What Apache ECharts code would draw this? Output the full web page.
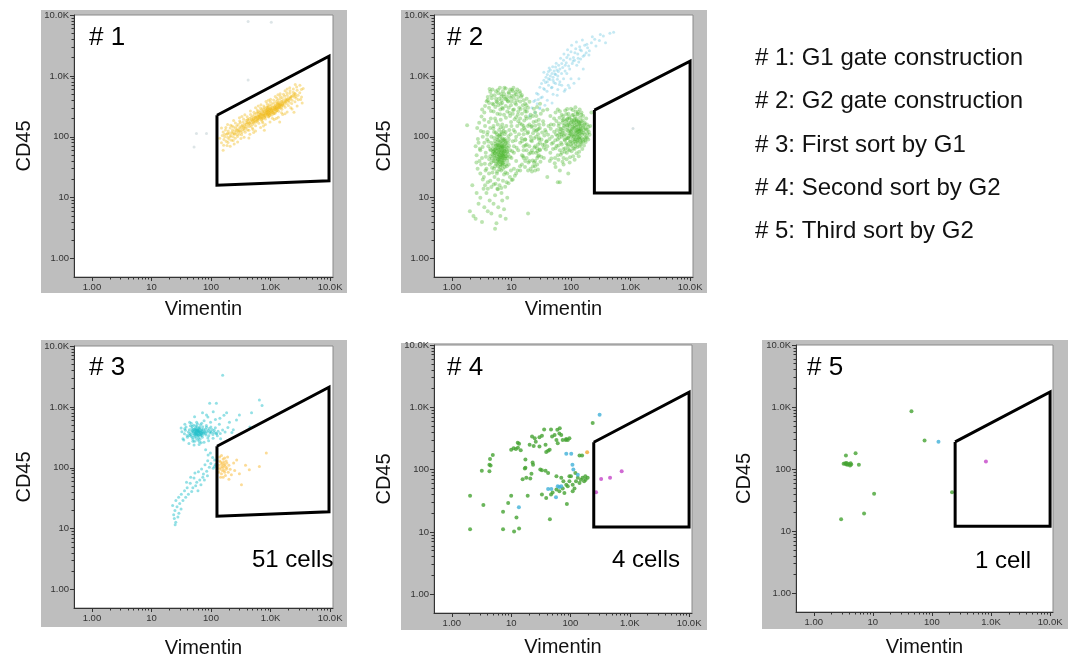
<!DOCTYPE html>
<html><head><meta charset="utf-8">
<script src="https://cdn.jsdelivr.net/npm/echarts@6/dist/echarts.min.js"></script>
<style>html,body{margin:0;padding:0;background:#fff}#c{width:1073px;height:659px}</style>
</head><body><div id="c"></div>
<script>
// ---------- axis ticks ----------
const tickValues = [1, 10, 100, 1000, 10000];
const tickLabels = ['1.00', '10', '100', '1.0K', '10.0K'];
const minorTickValues = [2,3,4,5,6,7,8,9,20,30,40,50,60,70,80,90,200,300,400,500,600,700,800,900,2000,3000,4000,5000,6000,7000,8000,9000];
const axisMin = 0.5, xAxisMax = 11200, yAxisMax = 10000;
const xTitle = 'Vimentin', yTitle = 'CD45';
const panelLabels = ['# 1', '# 2', '# 3', '# 4', '# 5'];
const cellCounts = ['', '', '51 cells', '4 cells', '1 cell'];
const legendLines = ['# 1: G1 gate construction', '# 2: G2 gate construction', '# 3: First sort by G1', '# 4: Second sort by G2', '# 5: Third sort by G2'];

// ---------- gates (Vimentin, CD45) ----------
const gateG1 = [[126,226],[9600,2110],[9600,19],[126,16],[126,226]];
const gateG2 = [[247,275],[10000,1750],[10000,12],[247,12],[247,275]];

// ---------- panel 1 ----------
const p1Yellow = [[140,95],[150,80],[155,105],[160,120],[165,90],[170,100],[175,130],[180,85],[185,110],[190,98],
[195,125],[200,92],[205,115],[210,140],[215,105],[220,88],[225,120],[230,130],[235,100],[240,145],
[245,112],[250,125],[255,95],[260,138],[265,118],[270,150],[275,108],[280,128],[285,160],[290,120],
[295,135],[300,110],[305,145],[310,170],[315,125],[320,140],[330,118],[335,155],[340,132],[345,175],
[350,145],[360,128],[365,162],[370,150],[380,138],[385,185],[390,160],[400,145],[405,172],[410,130],
[420,190],[425,158],[430,175],[440,148],[445,200],[450,165],[460,182],[470,150],[475,210],[480,170],
[490,190],[500,160],[505,220],[510,180],[520,200],[530,168],[540,235],[550,190],[560,210],[570,175],
[580,245],[590,200],[600,222],[610,185],[620,260],[630,210],[640,230],[650,195],[660,250],[670,220],
[680,270],[690,205],[700,240],[710,215],[720,285],[730,230],[740,255],[750,200],[760,275],[770,240],
[780,300],[790,225],[800,260],[810,245],[820,290],[830,215],[840,270],[850,240],[860,310],[870,255],
[880,230],[890,285],[900,262],[910,320],[920,240],[930,280],[940,300],[950,250],[960,335],[970,270],
[980,225],[990,295],[1000,260],[1020,320],[1040,280],[1060,350],[1080,250],[1100,300],[1120,270],[1140,360],
[1160,310],[1180,285],[1200,330],[1220,260],[1240,380],[1260,300],[1280,340],[1300,290],[1330,400],[1360,320],
[1390,350],[1420,300],[1450,420],[1480,340],[1510,380],[1540,310],[1570,440],[1600,360],[1640,400],[1680,330],
[1720,470],[1760,380],[1800,420],[1850,350],[1900,480],[1950,400],[2000,440],[2050,370],[2100,520],[2150,420],
[2200,460],[2300,400],[2400,540],[2500,450],[2600,500],[2700,430],[2800,580],[2900,480],[3100,530],[3300,600],
[620,200],[680,240],[720,210],[760,230],[800,215],[850,265],[880,250],[900,230],[940,270],[980,250],
[1000,240],[1050,270],[1100,255],[1150,290],[1200,280],[1250,310],[1300,320],[1350,300],[1400,330],[1450,350],
[700,190],[750,260],[820,240],[870,280],[920,215],[960,240],[1020,290],[1080,310],[1130,240],[1180,320],
[1230,290],[1280,270],[1320,350],[1380,370],[1430,320],[1500,340],[1550,380],[1600,330],[650,220],[590,180],
[550,210],[520,175],[480,190],[440,165],[400,170],[360,140],[330,150],[300,125],[270,130],[250,110],
[230,115],[210,100],[190,115],[170,110]];
const p1YellowB = [[163,73],[178,142],[193,81],[214,155],[236,87],[257,168],[279,101],[303,182],[327,108],[352,197],
[376,119],[405,214],[433,128],[462,232],[494,139],[527,254],[561,152],[598,276],[637,167],[679,298],
[724,181],[771,322],[822,196],[876,349],[933,212],[994,378],[1059,228],[1128,404],[1202,246],[1281,431],
[1365,263],[1454,465],[1549,284],[1651,498],[1759,305],[1874,531],[1997,327],[2128,569],[2267,352],[2416,612],
[2574,376],[2743,655],[2923,408],[3114,702],[3318,451],[3535,622],[872,238],[914,262],[958,226],[1004,287],
[1052,251],[1103,274],[1156,241],[1212,302],[1270,268],[1331,285],[1395,312],[1462,298],[1532,323],[1606,347],
[793,207],[756,224],[721,198],[687,232],[655,205],[624,219],[595,193],[567,212],[540,186],[515,197],
[1682,362],[1763,371],[1848,389],[1937,412],[2030,398],[2128,436],[2230,451],[2337,472],[2449,489],[2567,521]];
const p1YellowC = [[160,60],[210,70],[280,82],[360,98],[450,110],[560,125],[680,142],[820,160],[980,175],[1150,192],
[1350,210],[1600,232],[1900,255],[2300,285],[2800,320],[3400,360],[245,76],[520,118],[760,150],[1250,200],
[1750,240],[150,140],[190,160],[240,185],[300,205],[370,230],[460,265],[560,300],[690,335],[840,380],
[1000,415],[1200,460],[1450,510],[1750,570],[2100,640],[2600,720],[330,215],[620,320],[920,400],[1330,490],
[1900,610],[186,72],[226,151],[318,94],[412,192],[508,132],[612,248],[742,170],[893,305],[1076,202],
[1294,356],[1532,248],[1817,402],[2186,300],[2652,462],[3205,410],[433,96],[788,128],[1424,176],[2476,254]];
const p1Faint = [[57,113],[84,113],[52,68],[420,7800],[1030,7600],[420,860]];

// ---------- panel 2 ----------
const p2Green = [
[5,40],[6,55],[7,45],[5.5,70],[6.5,35],[7.5,60],[8,48],[4.8,52],[6.2,80],[7.2,30],
[5.2,62],[6.8,42],[7.8,75],[4.6,38],[5.8,90],[6.4,50],[7.4,55],[8.5,40],[5.4,45],[6.6,65],
[7,95],[5.1,30],[6,33],[8.2,62],[4.9,72],[6.9,52],[7.6,44],[5.6,58],[6.3,40],[7.9,85],
[5.3,85],[6.1,47],[7.1,68],[8.8,52],[4.5,60],[6.7,28],[7.3,38],[5.7,48],[6.5,100],[8,35],
[5,50],[6,62],[7,50],[5.5,36],[6.5,45],[7.5,70],[8.4,56],[4.7,44],[6.2,57],[7.7,32],
[5.9,75],[6.8,88],[5.2,40],[7.2,80],[6.4,68],[8.6,45],[4.4,48],[7,40],[6,43],[5.6,65],
[6.6,54],[7.4,47],[5.8,36],[6.9,60],[7.8,53],[5.3,55],[6.3,72],[8.1,70],[4.9,64],[7.1,35],
[6.1,52],[5.4,78],[6.7,46],[7.6,64],[5,58],[6.5,39],[7.3,90],[5.9,42],[8.3,48],[6.8,70],
[3,60],[3.2,45],[3.5,80],[3.8,30],[4,120],[4.2,25],[3.6,150],[4.5,200],[3.3,100],[4,18],
[4.3,35],[5,150],[5.2,22],[5.5,180],[6,20],[6.2,130],[7,160],[7.5,24],[8,120],[8.5,25],
[9,90],[9.5,60],[10,45],[10,150],[11,70],[11,30],[12,100],[12,40],[13,60],[13,180],
[14,80],[14,28],[15,50],[15,130],[16,70],[17,40],[3.1,35],[3.4,120],[3.7,55],[3.9,90],
[4.1,70],[4.4,140],[4.6,100],[4.8,26],[5.1,120],[5.3,200],[5.7,110],[5.9,160],[6.4,110],[6.6,190],
[6.9,120],[7.3,140],[7.7,110],[8.2,150],[8.7,80],[9.2,130],[9.7,110],[10.5,85],[11.5,120],[12.5,150],
[2.6,50],[2.8,80],[2.9,40],[3,25],[3.3,20],[3.6,16],[4,14],[4.6,15],[5.4,17],[6.3,16],
[7.2,19],[8.3,18],[9.4,22],[10.5,20],[2.5,70],[2.7,30],[9,35],[9.8,28],[11,55],[12,25],
[3.5,250],[4.2,300],[5,260],[5.8,240],[6.5,280],[7.5,230],[8.5,260],[9.5,220],[10.5,240],[12,210],
[4.8,350],[6,330],[7,360],[8,320],[9,300],[11,280],[13,260],[14,200],[15,160],[16,110],
[4,400],[5.5,420],[6.8,400],[8.2,410],[10,380],[12,340],[13.5,300],[17,90],[18,60],[16,45],
[3.6,320],[4,450],[4.4,550],[4.8,600],[5.2,480],[5.6,380],[6,520],[6.4,640],[6.8,460],[7.2,560],
[7.6,500],[8,620],[8.5,450],[9,540],[9.5,600],[10,470],[10.5,560],[11,420],[12,500],[13,450],
[14,520],[15,480],[16,400],[17,350],[18,420],[4.2,360],[5,340],[6.2,420],[7,300],[8.8,380],
[9.8,330],[11.5,360],[12.5,600],[14,380],[15.5,330],[5.5,560],[7.8,420],[10.8,640],[6.6,350],[4.6,480],
[15,35],[16,60],[17,90],[18,45],[19,120],[20,70],[21,30],[22,150],[23,55],[24,95],
[25,40],[26,180],[27,65],[28,110],[29,50],[30,80],[16,150],[18,200],[20,40],[22,85],
[24,130],[26,55],[28,75],[30,140],[19,28],[21,100],[23,220],[25,70],[27,45],[29,160],
[17,130],[20,160],[22,60],[24,38],[26,100],[28,48],[30,62],[18,75],[21,55],[23,115],
[25,250],[27,130],[29,90],[15,240],[17,260],[19,300],[21,230],[23,33],[25,28],[27,35],
[60,90],[65,120],[70,100],[75,140],[80,110],[85,130],[90,95],[95,150],[100,120],[105,105],
[110,140],[115,90],[120,125],[125,160],[130,110],[135,135],[140,100],[145,150],[150,120],[62,150],
[68,80],[72,170],[78,90],[82,180],[88,75],[92,160],[98,85],[102,190],[108,80],[112,170],
[118,105],[122,145],[128,85],[132,180],[138,125],[142,90],[148,165],[64,110],[74,125],[84,95],
[94,115],[104,135],[114,120],[124,100],[134,150],[144,115],[66,135],[76,105],[86,155],[96,130],
[106,160],[116,140],[126,130],[136,95],[146,135],[70,75],[80,160],[90,125],[100,100],[110,110],
[120,90],[130,130],[140,170],[150,95],[95,200],[105,180],[115,195],[125,185],[85,190],[75,195],
[30,60],[32,90],[35,45],[38,120],[40,70],[42,150],[45,55],[48,100],[50,80],[52,200],
[55,65],[58,130],[34,180],[36,75],[44,40],[46,160],[54,45],[56,110],[60,50],[65,60],
[70,55],[75,45],[80,65],[85,55],[90,70],[95,60],[100,75],[110,65],[120,70],[130,80],
[140,70],[150,80],[160,90],[170,110],[180,100],[190,130],[200,120],[160,150],[170,170],[180,200],
[160,220],[150,250],[130,240],[110,230],[90,240],[70,230],[55,250],[45,220],[40,280],[60,280],
[80,270],[100,290],[120,260],[140,280],[175,140],[185,160],[165,130],[195,90],[210,150],[220,250],
[55,32],[75,35],[95,38],[115,42],[135,48],[65,28],[90,25],[60,18],[40,22],[65,18],
[2,6],[2.3,5],[2.5,4.5],[2.8,8],[3,10],[3.2,4],[3.5,7],[3.8,12],[4,6],[4.3,9],
[4.6,5.5],[5,8],[5.3,11],[5.6,3.8],[6,7],[6.5,5],[7,9],[7.5,6.5],[8,4.5],[8.5,10],
[3.4,14],[2.6,12],[6.8,12],[5.8,14],[2.2,16],[5.3,3.1],[19,5.5],[1.8,155]];
const p2GreenB = [[4.37,63],[5.83,41],[6.91,77],[3.72,47],[8.34,33],[5.12,96],[7.68,58],[4.09,84],[6.27,29],[9.13,71],
[3.28,68],[5.47,118],[7.04,37],[8.91,102],[4.73,31],[6.58,143],[7.92,26],[3.91,108],[5.26,54],[9.47,47],
[4.18,176],[6.02,88],[7.37,124],[8.63,66],[3.57,36],[5.69,25],[6.84,110],[4.96,137],[7.81,92],[10.3,58],
[11.7,88],[13.4,110],[12.2,66],[14.8,95],[10.9,130],[16.3,140],[15.1,85],[9.86,175],[11.3,195],[13.9,165],
[3.14,215],[4.52,265],[5.36,310],[6.43,235],[7.19,290],[8.07,205],[9.32,245],[10.6,275],[12.8,230],[14.3,285],
[3.83,385],[4.67,430],[5.78,370],[6.74,505],[7.46,455],[8.69,390],[9.71,440],[11.2,480],[12.4,395],[13.7,560],
[4.29,610],[5.94,585],[7.58,640],[9.05,515],[10.2,590],[11.9,545],[14.6,455],[16.8,290],[17.5,215],[18.9,150],
[2.73,92],[2.94,64],[3.06,125],[2.58,38],[3.44,22],[3.67,28],[4.41,19],[5.03,16.5],[5.92,13.8],[6.76,14.5],
[7.85,15.2],[8.92,17.3],[10.1,19.6],[11.4,23],[12.7,28],[13.9,33],[2.87,170],[3.22,280],[3.49,190],[2.66,140],
[6.11,38],[6.37,61],[5.61,73],[6.88,34],[7.23,49],[5.74,27],[6.53,83],[7.01,66],[5.18,46],[6.19,104],
[4.88,57],[7.49,41],[8.16,79],[5.33,33],[6.71,57],[4.61,79],[7.64,87],[5.97,65],[6.35,46],[7.12,58],
[4.23,43],[8.47,58],[5.65,52],[6.95,71],[5.41,62],[7.33,52],[6.06,72],[6.48,32],[7.87,44],[5.79,99],
[15.7,48],[17.2,72],[18.6,115],[19.8,53],[21.4,88],[22.7,41],[24.3,67],[25.8,125],[27.4,58],[29.1,96],
[31.6,47],[33.2,74],[35.7,105],[37.9,62],[16.4,185],[18.1,260],[20.6,205],[23.5,175],[26.2,220],[28.8,190],
[31.1,240],[34.6,160],[36.8,130],[39.2,85],[16.9,32],[19.3,38],[22.1,27],[24.8,33],[27.9,29],[30.7,39],
[17.8,330],[20.1,375],[23.8,290],[26.9,310],[30.2,350],[33.9,270],[21.7,145],[25.1,152],[28.4,135],[32.8,118],
[63.4,97],[71.8,118],[79.2,87],[86.7,142],[93.1,104],[101.6,127],[108.3,92],[117.4,153],[124.9,116],[133.2,98],
[141.7,132],[152.6,108],[67.9,134],[76.3,152],[83.8,78],[91.4,171],[98.7,112],[106.2,147],[113.5,83],[121.8,174],
[129.4,121],[137.6,158],[146.3,127],[158.1,142],[61.7,72],[69.2,109],[74.8,63],[88.3,96],[95.9,83],[103.4,71],
[111.9,101],[119.3,77],[127.7,89],[136.1,112],[144.8,84],[162.4,117],[171.3,96],[54.6,88],[58.9,104],[52.1,121],
[47.3,77],[43.6,92],[49.8,63],[57.2,71],[41.2,108],[38.4,84],[35.1,66],[45.7,136],[51.3,158],[56.7,182],
[64.2,205],[73.6,218],[82.9,234],[92.8,211],[104.7,226],[116.3,214],[128.5,232],[142.1,205],[156.4,188],[168.7,161],
[179.2,132],[187.3,113],[196.8,146],[205.4,108],[176.4,82],[165.3,72],[154.8,63],[137.3,57],[124.1,54],[108.7,48],
[96.2,46],[84.4,43],[72.1,39],[61.5,42],[53.4,37],[46.8,44],[67.3,51],[78.6,57],[89.7,62],[102.3,58],
[114.6,63],[127.9,68],[143.4,74],[158.6,83],[172.9,88],[186.4,97],[62.8,165],[72.4,187],[87.1,198],[99.4,172],
[112.8,186],[123.7,197],[134.9,176],[148.2,181],[64.9,262],[86.3,285],[107.5,275],[131.6,255],[148.9,230],[118.7,305]];
const p2Cyan = [[20,220],[22,300],[25,400],[28,500],[30,650],[32,750],[35,850],[38,950],[40,1050],[42,900],
[45,1000],[48,1100],[50,950],[52,1200],[55,1050],[58,1250],[60,1000],[40,800],[45,1250],[50,850],
[55,1400],[62,1500],[65,1300],[70,1600],[75,1800],[80,1500],[85,2000],[90,2200],[100,2500],[110,2000],
[120,2800],[130,2300],[140,3000],[150,2600],[170,3200],[190,2900],[220,3500],[250,4000],[300,3800],[350,4500],
[450,5000],[25,250],[27,350],[33,450],[36,600],[42,700],[48,650],[55,750],[65,800],[75,900],
[85,1100],[95,1300],[105,1600],[115,1800],[125,1500],[135,1700],[145,1900],[160,2100],[180,2400],[200,2200],
[30,300],[40,400],[50,500],[60,600],[70,700],[80,600],[90,700],[100,900],[35,1150],[43,1350],
[23.7,380],[26.4,520],[29.8,290],[31.2,440],[34.7,620],[37.3,780],[39.6,560],[41.8,1180],[44.3,870],[46.9,640],
[49.2,1420],[51.7,780],[53.8,1080],[56.4,1620],[59.1,880],[61.3,1180],[63.7,720],[66.8,1950],[69.4,1100],[72.6,1380],
[76.1,2300],[79.5,1200],[83.2,1650],[87.6,2700],[91.3,1450],[96.8,1900],[102.4,3200],[108.7,1750],[116.2,2400],[123.5,3600],
[131.8,1950],[142.6,2700],[155.3,3900],[168.4,2200],[184.7,3300],[203.5,2600],[228.1,4400],[262.4,3100],[310.7,4800],[380.2,3500],
[520,5200],[58.6,480],[77.2,560],[94.5,640],[112.3,760],[135.7,900],[160.8,1300],[48.1,360],[36.5,330],[28.2,410]];
const p2Faint = [[1100,137]];

// ---------- panel 3 ----------
const p3Cyan = [[57,370],[52.3,342],[61.8,398],[48.6,411],[66.2,355],[54.9,452],[71.4,318],[44.1,367],[59.7,287],[63.5,436],
[50.8,386],[68.9,402],[46.3,329],[56.1,305],[73.8,378],[41.7,389],[58.4,471],[65.1,294],[53.7,358],[61.1,343],
[47.9,446],[70.3,426],[55.6,412],[62.7,382],[49.4,298],[67.6,337],[51.2,501],[58.9,351],[75.9,361],[43.4,421],
[60.2,418],[54.3,327],[64.8,465],[52.7,396],[57.8,433],[69.7,372],[45.8,352],[62.1,312],[56.7,391],[50.1,367],
[78.6,402],[82.4,347],[86.9,391],[91.7,336],[96.3,372],[80.8,432],[88.5,308],[39.6,338],[37.2,412],[35.8,362],
[59.3,526],[66.7,512],[53.1,273],[72.6,471],[48.2,481],[63.9,268],[57.4,401],[61.6,374],[55.2,379],[58.1,359],
[64.1,389],[52.9,417],[60.7,333],[67.3,385],[54.6,366],[59.9,408],[50.5,424],[68.4,357],[56.3,343],[62.4,396],
[101.5,384],[107.8,352],[113.4,412],[121.9,371],[131.6,398],[143.2,366],[156.7,418],[172.4,388],[93.8,441],[84.2,462],
[32.4,392],[34.9,286],[38.1,468],[42.6,251],[46.7,538],[51.9,236],[57.3,562],[63.2,241],[69.8,541],[76.4,262],
[83.7,497],[91.2,279],[99.6,468],[108.4,305],[118.3,455],[127.6,336],[36.2,437],[40.3,318],[45.1,492],[49.7,272],
[55.8,489],[62.9,452],[68.3,259],[74.2,426],[81.6,371],[89.3,413],[97.1,397],[104.6,425],[112.8,385],[124.2,362],
[47.6,396],[53.4,432],[58.7,418],[64.4,351],[70.9,392],[43.1,341],[66.1,423],[71.2,344],[49.1,318],[77.8,389],
[157,3300],[95,1150],[123,1150],[650,1300],[720,1050],[300,740],[480,800],[183,800],[72,800],[53,690],
[84,740],[109,830],[141,650],[237,420],[450,470],[76.5,590],[98.3,560],[118.6,620],[43.8,560],[36.4,520],
[204,560],[268,610],[192,460],[224,380],[138,520],[165,730],[88.7,680],[31.5,450],[33.8,300],[145,300],
[115,135],[106.4,148],[99.2,118],[93.6,102],[88.1,131],[84.7,88],[79.3,112],[74.6,79],[72.8,70],[69.5,96],
[64.7,63],[61.4,86],[57.6,58],[55.3,51],[51.8,68],[49.6,47],[47.4,41],[44.8,56],[41.7,37],[39.8,47],
[37.6,33],[35.9,42],[33.8,29],[31.7,37],[29.8,26],[28.6,33],[26.9,23],[25.7,29],[24.8,20],[23.6,17],
[24.2,14.7],[25.6,12.8],[25,11.6],[27.8,15.6],[22.7,24],[60.4,42],[67.8,53],[77.4,63],[87.2,74],[109.3,98],
[118.5,113],[114.2,105],[97.6,176],[89.4,162],[81.3,198],[53.7,82],[45.6,70],[38.8,58],[31.4,21],[28.9,18]];
const p3Orange = [[135,110],[140,95],[145,125],[150,80],[155,105],[160,140],[165,90],[170,115],[175,75],[180,130],
[185,100],[190,150],[195,85],[200,110],[140,130],[145,70],[150,115],[155,90],[160,100],[165,125],
[170,85],[175,105],[180,95],[185,120],[140,150],[150,160],[160,70],[170,145],[135,85],[130,100],
[145,100],[155,120],[165,110],[210,95],[220,77],[240,120],[270,135],[325,53],[440,93],[650,105],
[850,175],[300,80],[380,110],[200,65],[250,90]];

// ---------- panel 4 ----------
const p4Green = [[2.03,38],[2.03,11],[3.4,27],[3.2,96],[4.3,94],[4.3,120],[4.4,148],[4.9,172],[4.5,116],[7.3,21],
[7.3,11],[8.9,29],[10,38],[11.2,10.2],[12.3,17],[13.6,11.3],[10,209],[11,220],[12,215],[13,225],
[13.6,260],[14.5,205],[19,38],[18,74],[17.4,107],[17.4,145],[22,86],[23.4,120],[22.5,340],[20.5,250],
[24,240],[26,280],[25,320],[31,100],[30,235],[30,330],[33,350],[33,40],[36,440],[38,250],
[39,192],[42,200],[42,88],[45,16],[47,440],[49,340],[54,360],[58,300],[61,265],[65,380],
[66,460],[70,360],[74,300],[85,310],[90,300],[96,320],[87,28],[39,35],[47,40],[50,43],
[58,48],[65,45],[74,50],[79,42],[85,57],[96,65],[96,78],[109,57],[117,50],[124,65],
[133,74],[142,61],[150,69],[160,74],[170,65],[180,69],[195,74],[142,168],[157,168],[178,78],
[58,78],[70,74],[76,65],[90,54],[109,45],[102,78],[121,88],[237,560],[17,104],[21,72],
[15.6,70],[23,130],[33,98],[38,96],[44.6,209],[60,435],[83,300],[12.9,270]];
const p4Blue = [[310,760],[85,180],[103,180],[108,120],[112,100],[133,83],[42,49],[47.5,49],[61,54],[65,52.5],[70,54],[13.5,25],[57,36]];
const p4Orange = [[191,190]];
const p4Magenta = [[329,71],[465,74],[730,94],[270,43.5]];

// ---------- panel 5 ----------
const p5Green = [[3.5,166],[5.1,181],[3.2,122],[3.4,125],[3.5,120],[3.6,126],[3.7,118],[3.9,121],[4.1,115],[4.3,119],
[4.2,124],[5.8,118],[10.5,40],[7.1,19.3],[2.9,15.6],[45,860],[75,290],[219,42.5]];
const p5Blue = [[129,276]];
const p5Magenta = [[820,133]];

// ---------- layout / style ----------
const FONT = 'Liberation Sans, Arial, sans-serif';
const panels = [
  {grid:{left:74, top:15, width:259, height:262}, box:[41,10,306,283], lab:[89,37.5], cnt:null, xGap:22, yGap:40,
   gate:gateG1, sets:[[p1Faint,'rgba(170,190,195,0.5)',3],[p1Yellow.concat(p1YellowB, p1YellowC),'rgba(240,185,20,0.5)',3]]},
  {grid:{left:434, top:15, width:259, height:262}, box:[401,10,306,283], lab:[447,37.5], cnt:null, xGap:22, yGap:40,
   gate:gateG2, sets:[[p2Faint,'rgba(170,190,195,0.6)',3],[p2Cyan,'rgba(110,200,225,0.5)',3],[p2Green.concat(p2GreenB),'rgba(70,180,40,0.45)',4]]},
  {grid:{left:74, top:346, width:259, height:263}, box:[41,340,306,287], lab:[89,368], cnt:[252,560.5], xGap:30, yGap:40,
   gate:gateG1, sets:[[p3Cyan,'rgba(30,190,200,0.6)',3],[p3Orange,'rgba(250,195,80,0.75)',3]]},
  {grid:{left:434, top:345, width:258, height:268}, box:[401,343,306,287], lab:[447,368], cnt:[612,560.5], xGap:24, yGap:40,
   gate:gateG2, sets:[[p4Green,'#45a332',4],[p4Blue,'#40b0d8',4],[p4Orange,'#f0a830',4],[p4Magenta,'#c445c8',4]]},
  {grid:{left:796, top:345, width:257, height:267}, box:[762,340,306,289], lab:[807,368], cnt:[975,561], xGap:25, yGap:42,
   gate:gateG2, sets:[[p5Green,'#45a332',4],[p5Blue,'#40b0d8',4],[p5Magenta,'#c445c8',4]]}
];

function fmt(v) {
  const k = tickValues.findIndex(t => Math.abs(Math.log10(t) - Math.log10(v)) < 1e-6);
  return k >= 0 ? tickLabels[k] : '';
}

const grid = [], xAxis = [], yAxis = [], series = [], elements = [];
panels.forEach((p, i) => {
  grid.push(Object.assign({show:true, backgroundColor:'#fff', borderColor:'#8a8a8a', borderWidth:1, containLabel:false}, p.grid));
  const tickStyle = {color:'#333', width:1};
  const majorBase = {type:'log', logBase:10, gridIndex:i, min:axisMin,
    axisLine:{show:true, onZero:false, lineStyle:{color:'#333', width:1}},
    axisTick:{show:true, customValues:tickValues, length:4, lineStyle:tickStyle},
    axisLabel:{show:true, customValues:tickValues, formatter:fmt, fontSize:9.5, color:'#333', fontFamily:FONT, margin:5},
    splitLine:{show:false}, minorTick:{show:false}, minorSplitLine:{show:false},
    nameLocation:'middle', nameTextStyle:{fontSize:20, color:'#111', fontFamily:FONT}};
  const minorBase = {type:'log', logBase:10, gridIndex:i, min:axisMin,
    axisLine:{show:false}, axisLabel:{show:false}, splitLine:{show:false},
    axisTick:{show:true, customValues:minorTickValues, length:2.5, lineStyle:tickStyle}};
  xAxis.push(Object.assign({}, majorBase, {position:'bottom', max:xAxisMax, name:xTitle, nameGap:p.xGap}));
  xAxis.push(Object.assign({}, minorBase, {position:'bottom', max:xAxisMax}));
  yAxis.push(Object.assign({}, majorBase, {position:'left', max:yAxisMax, name:yTitle, nameGap:p.yGap}));
  yAxis.push(Object.assign({}, minorBase, {position:'left', max:yAxisMax}));
  p.sets.forEach(s => {
    series.push({type:'scatter', xAxisIndex:2*i, yAxisIndex:2*i, data:s[0], symbolSize:s[2],
      itemStyle:{color:s[1]}, silent:true, z:2});
  });
  series.push({type:'line', xAxisIndex:2*i, yAxisIndex:2*i, data:p.gate, symbol:'none',
    lineStyle:{color:'#000', width:3, join:'miter'}, silent:true, z:5});
  elements.push({type:'rect', shape:{x:p.box[0], y:p.box[1], width:p.box[2], height:p.box[3]},
    style:{fill:'#bebebe'}, z:-10, silent:true});
  elements.push({type:'text', x:p.lab[0], y:p.lab[1], z:100,
    style:{text:panelLabels[i], fontSize:26, fontFamily:FONT, fill:'#000', align:'left', verticalAlign:'middle'}});
  if (p.cnt) {
    elements.push({type:'text', x:p.cnt[0], y:p.cnt[1], z:100,
      style:{text:cellCounts[i], fontSize:24, fontFamily:FONT, fill:'#000', align:'left', verticalAlign:'middle'}});
  }
});
const legendY = [58, 101.5, 145, 188.3, 231.5];
legendLines.forEach((t, k) => {
  elements.push({type:'text', x:755, y:legendY[k], z:100,
    style:{text:t, fontSize:24, fontFamily:FONT, fill:'#111', align:'left', verticalAlign:'middle'}});
});

const chart = echarts.init(document.getElementById('c'), null, {renderer:'canvas'});
chart.setOption({animation:false, backgroundColor:'#fff', grid, xAxis, yAxis, series, graphic:{elements}});
</script></body></html>
